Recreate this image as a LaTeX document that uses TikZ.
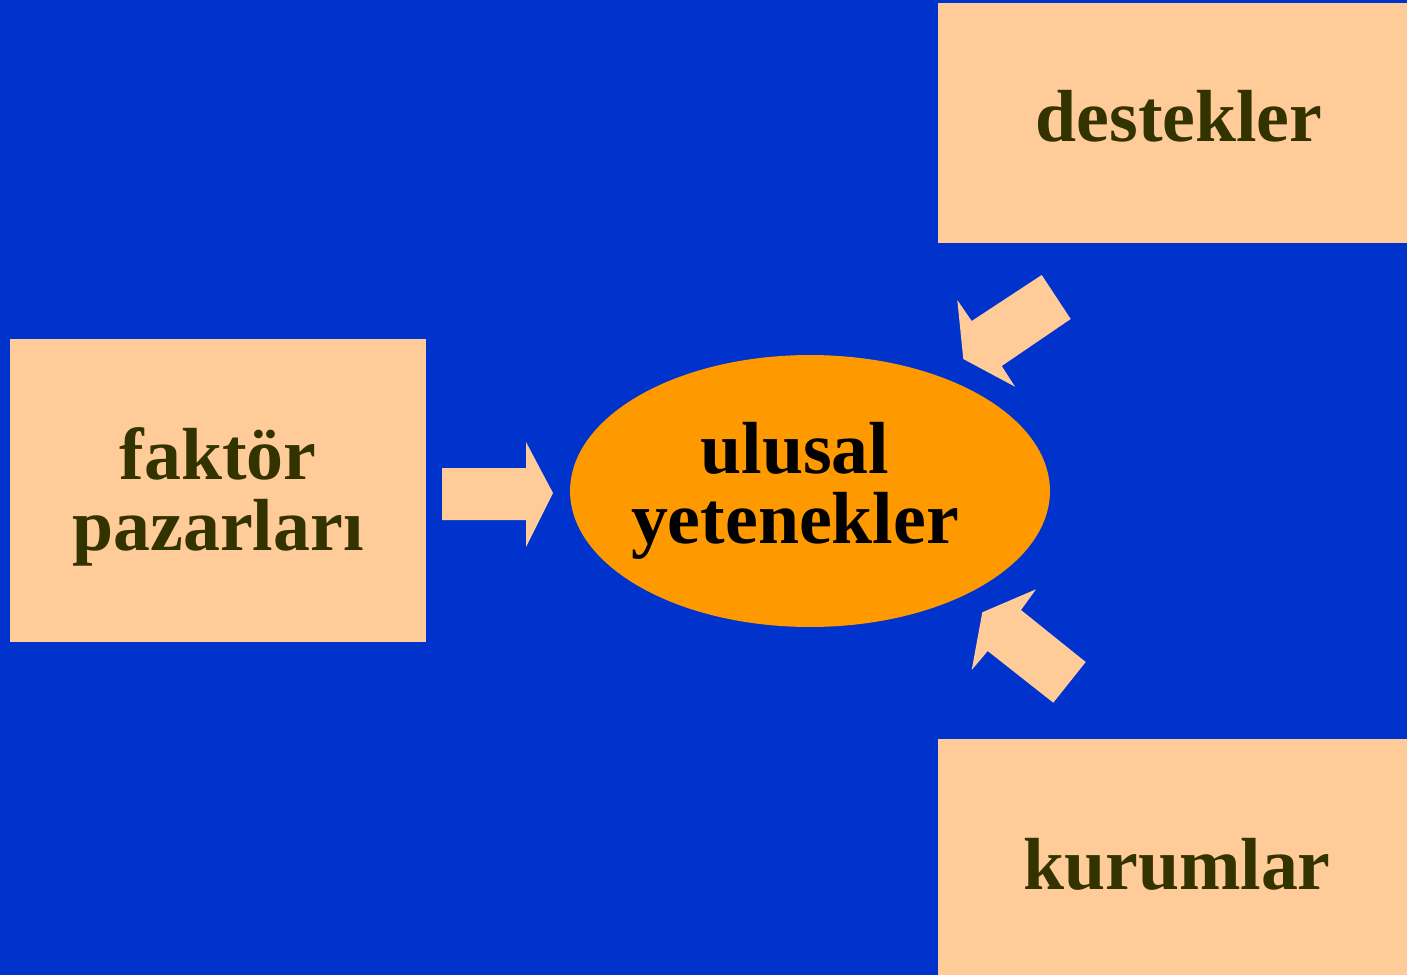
\documentclass[tikz,border=0pt]{standalone}
\usepackage{fontspec}
\setmainfont{Liberation Serif}
\usepackage{tikz}
\usetikzlibrary{shapes,arrows}
\definecolor{zemin}{HTML}{0033CC}
\definecolor{seftali}{HTML}{FFCC99}
\definecolor{turuncu}{HTML}{FF9900}
\definecolor{yazi}{HTML}{333300}
\tikzstyle{kutu} = [rectangle, fill=seftali, inner sep=0pt, outer sep=0pt]
\tikzstyle{merkez} = [ellipse, fill=turuncu, inner sep=0pt]
\tikzstyle{etiket} = [text=yazi, align=center, inner sep=0pt,
,font=\bfseries\fontsize{42}{40}\selectfont]
\tikzstyle{okblok} = [fill=seftali]

\begin{document}
\begin{tikzpicture}[x=0.02cm,y=-0.02cm]
                        \fill[zemin] (0,0) rectangle (1407,975);
                        \useasboundingbox (0,0) rectangle (1407,975);
                        \node[kutu,minimum width=8.32cm,minimum height=6.06cm]
                            (faktor) at (218,490.5) {};
                        \node[etiket] (faktoryazi) at (218,497) {faktör\\pazarları};
                        \node[kutu,minimum width=9.38cm,minimum height=4.8cm]
                            (destek) at (1172.5,123) {};
                        \node[etiket] (destekyazi) at (1179,116) {destekler};
                        \node[kutu,minimum width=9.38cm,minimum height=4.72cm]
                            (kurum) at (1172.5,857) {};
                        \node[etiket] (kurumyazi) at (1177,864) {kurumlar};
                        \node[merkez,minimum width=9.6cm,minimum height=5.44cm]
                            (ulusal) at (810,491) {};
                        \node[etiket,text=black] (ulusalyazi) at (795,491) {ulusal\\yetenekler};
                        % blok oklar
                        \fill[okblok] (442,468) -- (526,468) -- (526,442) -- (553,493)
                            -- (526,547) -- (526,520) -- (442,520) -- cycle;
                        \fill[okblok] (1041.7,275) -- (1070.7,319) -- (1001.7,366) -- (1015,386.7)
                            -- (963.3,359) -- (957.3,300) -- (971.7,321) -- cycle;
                        \fill[okblok] (1053.3,702.7) -- (1085.7,662) -- (1021,610) -- (1036,589.3)
                            -- (982.3,612.3) -- (971.7,670) -- (987.7,651) -- cycle;
                    \end{tikzpicture}
\end{document}
